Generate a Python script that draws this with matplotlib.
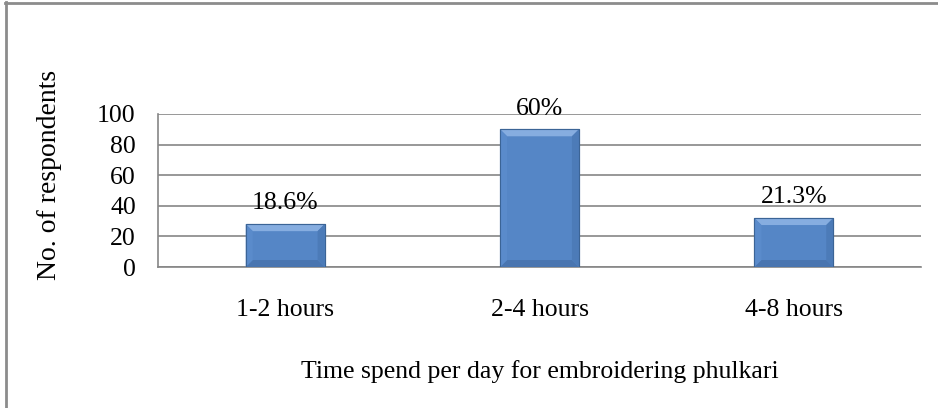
import matplotlib
matplotlib.use("Agg")
import matplotlib.pyplot as plt
from matplotlib.lines import Line2D
from matplotlib.patches import Polygon
from matplotlib.transforms import IdentityTransform

categories = ["1-2 hours", "2-4 hours", "4-8 hours"]
respondents = [28, 90, 32]
percent_labels = ["18.6%", "60%", "21.3%"]
y_ticks = [0, 20, 40, 60, 80, 100]

plt.rcParams["font.family"] = ["Liberation Serif", "DejaVu Serif"]

fig = plt.figure(figsize=(9.38, 4.08), dpi=100)
ax = fig.add_axes([158 / 938, 1 - 267 / 408, (921 - 158) / 938, (267 - 114) / 408])

x = list(range(len(categories)))
bars = ax.bar(x, respondents, width=0.31, color="#5586C6",
              edgecolor="#3B6496", linewidth=0.8, zorder=3)

ax.set_xlim(-0.5, len(categories) - 0.5)
ax.set_ylim(0, 100)
ax.set_yticks(y_ticks)
ax.set_xticks(x)
ax.set_xticklabels(categories, fontsize=18.5)
ax.tick_params(axis="both", length=0, labelsize=18.5)
ax.tick_params(axis="y", pad=16)
ax.tick_params(axis="x", pad=23)
ax.grid(axis="y", color="#868686", linewidth=1.2, zorder=0)

for side in ["top", "right"]:
    ax.spines[side].set_visible(False)
ax.spines["left"].set_color("#868686")
ax.spines["bottom"].set_color("#868686")
ax.spines["left"].set_linewidth(1.2)
ax.spines["bottom"].set_linewidth(1.2)

ax.set_ylabel("No. of respondents", fontsize=20)
ax.yaxis.set_label_coords(-0.126, 0.60)
ax.set_xlabel("Time spend per day for embroidering phulkari", fontsize=18.5, labelpad=28)

# percentage labels above the bars
for bar, lab in zip(bars, percent_labels):
    ax.annotate(lab, (bar.get_x() + bar.get_width() / 2, bar.get_height()),
                xytext=(0, 7), textcoords="offset points",
                ha="center", va="bottom", fontsize=18.5)

# bevel look on each bar
bw = 7
for bar in bars:
    (x0, y0), (x1, y1) = ax.transData.transform(
        [(bar.get_x(), 0), (bar.get_x() + bar.get_width(), bar.get_height())])
    b = min(bw, (y1 - y0) / 3)
    faces = [
        ([(x0, y1), (x1, y1), (x1 - b, y1 - b), (x0 + b, y1 - b)], "#86ADE0"),
        ([(x0, y0), (x1, y0), (x1 - b, y0 + b), (x0 + b, y0 + b)], "#4975B0"),
        ([(x0, y0), (x0, y1), (x0 + b, y1 - b), (x0 + b, y0 + b)], "#5A8BCB"),
        ([(x1, y0), (x1, y1), (x1 - b, y1 - b), (x1 - b, y0 + b)], "#4C7BB8"),
    ]
    for pts, c in faces:
        ax.add_patch(Polygon(pts, closed=True, facecolor=c, edgecolor="none",
                             transform=IdentityTransform(), zorder=4))
    ax.add_patch(Polygon([(x0, y0), (x1, y0), (x1, y1), (x0, y1)], closed=True,
                         facecolor="none", edgecolor="#3B6496", linewidth=0.8,
                         transform=IdentityTransform(), zorder=5))

# outer chart border (left and top only visible)
fig.add_artist(Line2D([5.5 / 938, 5.5 / 938], [0, 1 - 2 / 408],
                      transform=fig.transFigure, color="#8C8C8C", linewidth=2))
fig.add_artist(Line2D([5 / 938, 1], [1 - 2.5 / 408, 1 - 2.5 / 408],
                      transform=fig.transFigure, color="#8C8C8C", linewidth=2))

fig.savefig("out.png", dpi=100)
